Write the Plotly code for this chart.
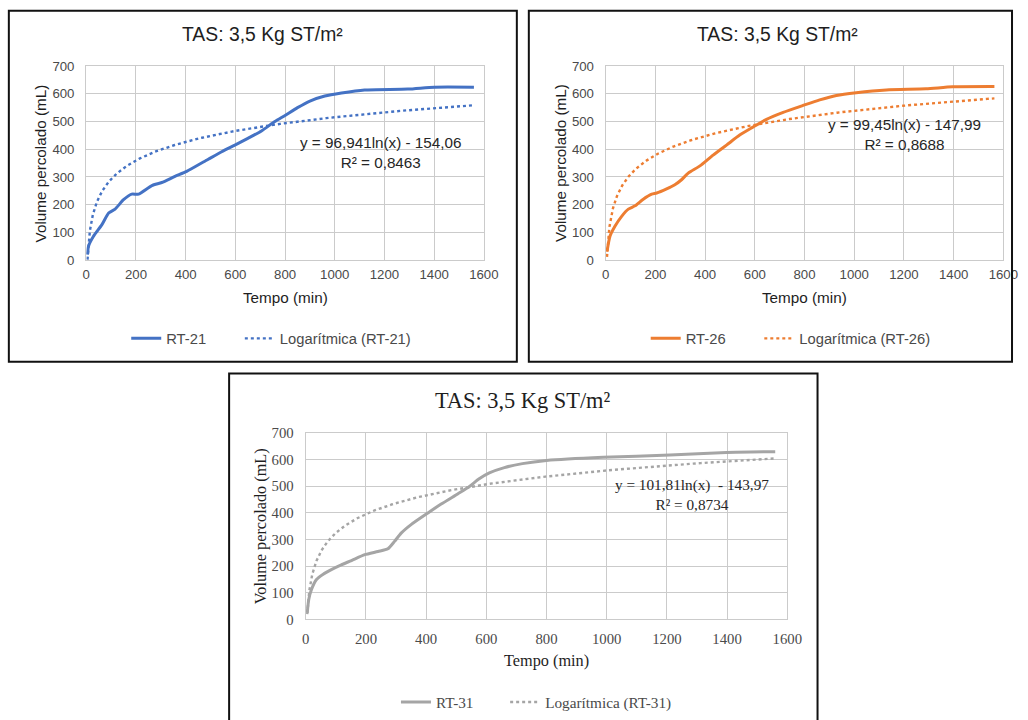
import numpy as np
import plotly.graph_objects as go

W, H = 1028, 720
# measured mapping of the photographed page: picture = S*page + (OX, OY)
S, OX, OY = 0.9825, 3.65, 5.64

# ---------------- data ----------------
t21 = [5, 9, 29, 63, 90, 116, 150, 183, 210, 264, 304, 357, 404, 491, 545, 598,
       652, 705, 759, 800, 850, 900, 960, 1027, 1120, 1294, 1401, 1560]
v21 = [20, 50, 86, 128, 170, 184, 218, 238, 238, 269, 280, 302, 320, 364, 391, 415,
       440, 466, 500, 522, 550, 574, 592, 603, 614, 617, 624, 624]

t26 = [5, 17, 37, 64, 91, 118, 151, 185, 205, 245, 278, 305, 332, 379, 432, 486,
       539, 593, 647, 714, 794, 861, 928, 1008, 1129, 1289, 1396, 1564]
v26 = [30, 86, 122, 158, 184, 196, 220, 238, 242, 257, 272, 290, 314, 340, 379, 415,
       451, 480, 508, 533, 558, 578, 594, 604, 614, 618, 625, 626]

t31 = [5, 10, 19, 35, 58, 85, 118, 152, 196, 240, 273, 295, 317, 351, 406, 450,
       506, 545, 575, 610, 660, 720, 800, 988, 1210, 1398, 1560]
v31 = [25, 75, 112, 149, 170, 187, 205, 221, 243, 255, 265, 293, 324, 357, 400, 433,
       472, 500, 527, 550, 570, 585, 597, 609, 617, 627, 630]

# logarithmic trendlines as printed on the chart: y = a*ln(x) + b
fit21 = (96.941, -154.06)
fit26 = (99.45, -147.99)
fit31 = (101.81, -143.97)

eq21 = ["y = 96,941ln(x) - 154,06", "R² = 0,8463"]
eq26 = ["y = 99,45ln(x) - 147,99", "R² = 0,8688"]
eq31 = ["y = 101,81ln(x)  - 143,97", "R² = 0,8734"]

title_text = "TAS: 3,5 Kg ST/m²"
x_title = "Tempo (min)"
y_title = "Volume percolado (mL)"

# ---------------- helpers (target picture pixels -> paper) ----------------
def gx(x):
    return min(max((x - OX) / S, 0.5), W - 1)

def gy(y):
    return min(max((y - OY) / S, 0.5), H + 30)

def px(x):
    return gx(x) / W

def py(y):
    return 1 - gy(y) / H

def fs(size):
    return size / S

SANS = "Liberation Sans, Arial, sans-serif"
SERIF = "Liberation Serif, Times New Roman, serif"
GRID = "#CBCBCB"
TXT = "#4a4a4a"
NB = "\u00a0"

panels = [
    dict(t=t21, v=v21, fit=fit21, eq=eq21, name="RT-21", color="#4472C4",
         frame=(8.5, 8.5, 517, 361), plot=(86, 64, 484, 259), font=SANS,
         tick=13, ttl=19, axt=15, leg=14.5, eqf=15, eqpos=(381, 151),
         titley=32, ytx=40, xty=297, legx=126, legy=338, pad=7, xstand=2,
         ax="", lg="legend"),
    dict(t=t26, v=v26, fit=fit26, eq=eq26, name="RT-26", color="#ED7D31",
         frame=(529, 8.5, 1026, 361), plot=(606, 64, 1004, 259), font=SANS,
         tick=13, ttl=19, axt=15, leg=14.5, eqf=15, eqpos=(905, 132.7),
         titley=32, ytx=560, xty=297, legx=646, legy=338, pad=7, xstand=2,
         ax="2", lg="legend2"),
    dict(t=t31, v=v31, fit=fit31, eq=eq31, name="RT-31", color="#A5A5A5",
         frame=(229, 373, 818, 740), plot=(305.7, 432.7, 787.7, 620), font=SERIF,
         tick=14.5, ttl=22, axt=16, leg=15, eqf=15, eqpos=(692, 494),
         titley=400, ytx=260, xty=661, legx=396, legy=703, pad=7, xstand=6,
         ax="3", lg="legend3"),
]

fig = go.Figure()
shapes = []
annotations = []
layout = dict(width=W, height=H, margin=dict(l=0, r=0, t=0, b=0),
              paper_bgcolor="white", plot_bgcolor="white", showlegend=True)

for p in panels:
    xa = "x" + p["ax"]
    ya = "y" + p["ax"]
    fx0, fy0, fx1, fy1 = p["frame"]
    x0, y0, x1, y1 = p["plot"]

    fig.add_trace(go.Scatter(
        x=p["t"], y=p["v"], mode="lines", name=p["name"] + NB * p["pad"],
        line=dict(color=p["color"], width=3, shape="spline", smoothing=0.6),
        xaxis=xa, yaxis=ya, legend=p["lg"]))
    a, b = p["fit"]
    xf = np.geomspace(p["t"][0], p["t"][-1], 300)
    fig.add_trace(go.Scatter(
        x=xf, y=a * np.log(xf) + b, mode="lines",
        name="Logarítmica (" + p["name"] + ")",
        line=dict(color=p["color"], width=2.4, dash="dot"),
        xaxis=xa, yaxis=ya, legend=p["lg"]))

    axcommon = dict(showgrid=True, gridcolor=GRID, gridwidth=1.3, showline=True,
                    linecolor=GRID, linewidth=1.3, mirror=True, zeroline=False,
                    ticks="", tickfont=dict(family=p["font"], size=fs(p["tick"]), color=TXT),
                    fixedrange=True)
    layout["xaxis" + p["ax"]] = dict(axcommon, domain=[px(x0), px(x1)], range=[0, 1600],
                                     dtick=200, tick0=0, anchor=ya,
                                     ticklabelstandoff=p["xstand"])
    layout["yaxis" + p["ax"]] = dict(axcommon, domain=[py(y1), py(y0)], range=[0, 700],
                                     dtick=100, tick0=0, anchor=xa, ticklabelstandoff=8)

    layout[p["lg"]] = dict(orientation="h", x=px(p["legx"]), xanchor="left",
                           y=py(p["legy"]), yanchor="middle",
                           font=dict(family=p["font"], size=fs(p["leg"]), color=TXT),
                           bgcolor="rgba(0,0,0,0)", itemclick=False, itemdoubleclick=False)

    shapes.append(dict(type="rect", xref="paper", yref="paper",
                       x0=px(fx0), x1=px(fx1), y0=py(fy0), y1=py(fy1),
                       line=dict(color="#111111", width=2), layer="above"))

    cx = (fx0 + fx1) / 2
    annotations.append(dict(text=title_text, x=px(cx), y=py(p["titley"]), xref="paper",
                            yref="paper", showarrow=False, xanchor="center", yanchor="middle",
                            font=dict(family=p["font"], size=fs(p["ttl"]), color="#1e1e1e")))
    annotations.append(dict(text=x_title, x=px((x0 + x1) / 2), y=py(p["xty"]), xref="paper",
                            yref="paper", showarrow=False, xanchor="center", yanchor="middle",
                            font=dict(family=p["font"], size=fs(p["axt"]), color="#1e1e1e")))
    annotations.append(dict(text=y_title, x=px(p["ytx"]), y=py((y0 + y1) / 2), xref="paper",
                            yref="paper", showarrow=False, xanchor="center", yanchor="middle",
                            textangle=-90,
                            font=dict(family=p["font"], size=fs(p["axt"]), color="#1e1e1e")))
    ex, ey = p["eqpos"]
    annotations.append(dict(text="<br>".join(p["eq"]), x=px(ex), y=py(ey), xref="paper",
                            yref="paper", showarrow=False, xanchor="center", yanchor="middle",
                            align="center",
                            font=dict(family=p["font"], size=fs(p["eqf"]), color="#262626")))

layout["shapes"] = shapes
layout["annotations"] = annotations
fig.update_layout(**layout)
fig.write_html("out.html", config={"displayModeBar": False},
               post_script="document.body.style.margin='0';document.body.style.overflow='hidden';")
